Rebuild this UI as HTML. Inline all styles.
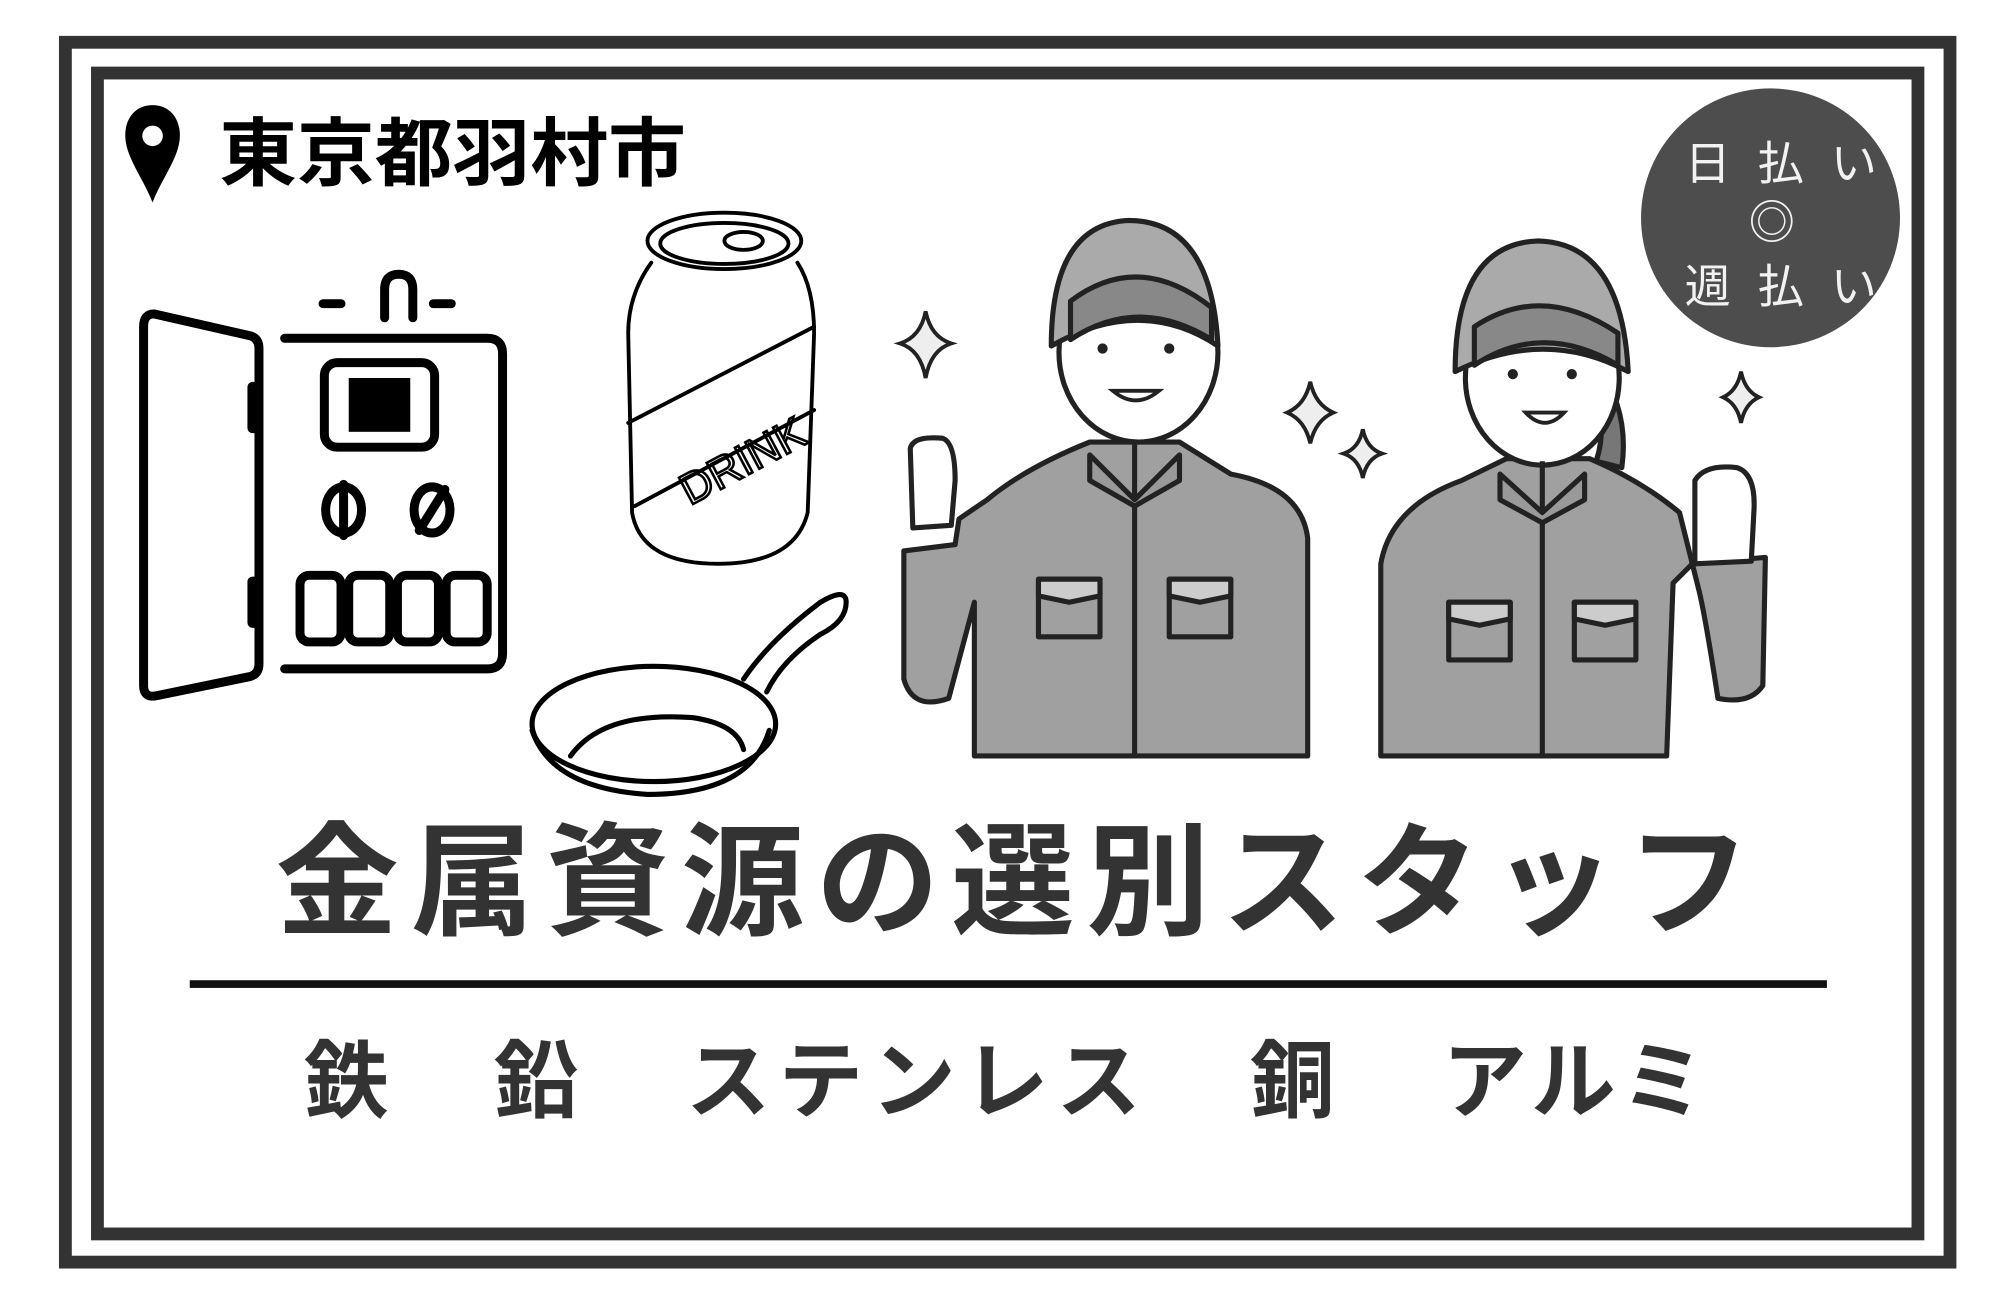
<!DOCTYPE html>
<html><head><meta charset="utf-8"><style>
html,body{margin:0;padding:0;background:#fff;}
svg{display:block;}
text{font-family:"Liberation Sans","Noto Sans CJK JP",sans-serif;}
</style></head><body>
<svg width="2000" height="1298" viewBox="0 0 1560 1013" preserveAspectRatio="none" xmlns="http://www.w3.org/2000/svg">
<rect x="0" y="0" width="1560" height="1013" fill="#fff"/>
<rect x="51" y="33" width="1470" height="952" fill="none" stroke="#333" stroke-width="10"/>
<rect x="76" y="57" width="1420" height="906" fill="none" stroke="#333" stroke-width="10"/>

<!-- pin -->
<path d="M119 82 C104 82 96 95 98 110 C100 125 112 140 119 158 C126 140 138 125 140 110 C142 95 134 82 119 82 Z" fill="#000"/>
<circle cx="119" cy="106" r="8" fill="#fff"/>
<text x="171" y="140" font-size="58" font-weight="bold" fill="#000" textLength="364" lengthAdjust="spacingAndGlyphs">東京都羽村市</text>

<!-- badge -->
<circle cx="1381" cy="170" r="101" fill="#4d4d4d"/>
<g fill="#f2f2f2" font-size="36">
<text x="1314" y="140" textLength="150" lengthAdjust="spacing">日払い</text>
<text x="1364" y="186">◎</text>
<text x="1314" y="236" textLength="150" lengthAdjust="spacing">週払い</text>
</g>

<!-- water heater -->
<g fill="none" stroke="#000" stroke-width="7" stroke-linecap="round" stroke-linejoin="round">
<path d="M120 245 Q112 245 112 255 L112 535 Q112 545 122 543 L195 528 Q202 526 202 518 L202 272 Q202 264 195 262 Z"/>
<path d="M222 264 L380 264 Q392 264 392 276 L392 510 Q392 522 380 522 L222 522"/>
<path d="M252 237 L266 237 M338 237 L352 237"/>
<path d="M300 248 L300 226 Q300 214 311 214 Q322 214 322 226 L322 248"/>
<rect x="253" y="283" width="86" height="66" rx="10"/>
<rect x="234" y="449" width="32" height="52" rx="7"/>
<rect x="272" y="449" width="32" height="52" rx="7"/>
<rect x="310" y="449" width="32" height="52" rx="7"/>
<rect x="348" y="449" width="32" height="52" rx="7"/>
<ellipse cx="268" cy="398" rx="14" ry="18"/>
<ellipse cx="337" cy="398" rx="14" ry="18"/>
<path d="M268 378 L268 418 M347 382 L327 414"/>
</g>
<rect x="272" y="295" width="48" height="42" fill="#000"/>
<rect x="193" y="298" width="10" height="40" rx="4" fill="#000"/>
<rect x="193" y="450" width="10" height="40" rx="4" fill="#000"/>

<!-- can -->
<g fill="none" stroke="#000" stroke-width="3" stroke-linecap="round">
<ellipse cx="565" cy="188" rx="60" ry="22"/>
<ellipse cx="565" cy="190" rx="50" ry="16"/>
<ellipse cx="580" cy="188" rx="15" ry="7"/>
<path d="M508 205 Q490 230 490 260 L493 400 Q500 440 560 440 Q620 440 630 400 L635 260 Q635 225 622 205"/>
<path d="M490 330 L635 255 M495 395 L635 320"/>
<text x="515" y="378" font-size="34" fill="none" stroke="#000" stroke-width="2" transform="rotate(-28 560 340)">DRINK</text>
</g>

<!-- pan -->
<g fill="none" stroke="#000" stroke-width="4" stroke-linecap="round">
<ellipse cx="510" cy="565" rx="95" ry="45"/>
<path d="M415 570 Q430 615 505 620 Q585 620 600 570"/>
<path d="M445 590 Q470 555 540 560 Q575 565 580 585"/>
<path d="M580 530 Q600 500 640 470 Q660 458 660 470 Q660 485 640 495 Q610 515 598 540"/>
</g>

<!-- sparkles -->
<g fill="#eee" stroke="#222" stroke-width="3">
<path d="M722 243 Q726 263 742 268 Q726 273 722 295 Q718 273 702 268 Q718 263 722 243Z"/>
<path d="M1022 298 Q1026 316 1040 322 Q1026 328 1022 346 Q1018 328 1004 322 Q1018 316 1022 298Z"/>
<path d="M1063 335 Q1066 350 1078 354 Q1066 358 1063 373 Q1060 358 1048 354 Q1060 350 1063 335Z"/>
<path d="M1358 290 Q1361 305 1372 310 Q1361 315 1358 330 Q1355 315 1344 310 Q1355 305 1358 290Z"/>
</g>

<!-- man -->
<g stroke="#222" stroke-width="4" stroke-linejoin="round">
<path d="M705 430 L705 530 Q712 555 740 545 L760 470 L760 590 L1020 590 L1020 420 Q1015 380 960 370 L920 345 L850 345 Q800 365 770 390 L748 405 L745 425 Z" fill="#a0a0a0"/>
<path d="M710 350 Q712 340 735 342 Q745 345 745 375 L742 410 L712 412 Z" fill="#fff"/>
<ellipse cx="888" cy="275" rx="62" ry="70" fill="#fff"/>
<path d="M820 270 Q820 175 880 172 Q945 172 950 270 Q890 230 820 270Z" fill="#aaa"/>
<path d="M835 235 Q888 195 945 240 L945 265 Q888 230 835 265Z" fill="#888"/>
<path d="M885 345 L885 590" fill="none"/>
<rect x="810" y="452" width="48" height="45" fill="#a0a0a0"/>
<rect x="912" y="452" width="48" height="45" fill="#a0a0a0"/>
<path d="M810 452 L858 452 L858 465 L834 470 L810 465Z M912 452 L960 452 L960 465 L936 470 L912 465Z" fill="#ccc"/>
<path d="M850 355 L885 390 L920 355 L920 375 L885 395 L850 375 Z" fill="#999"/>
</g>
<g fill="#222"><circle cx="860" cy="272" r="4"/><circle cx="912" cy="272" r="4"/>
<path d="M868 305 Q886 320 904 305 Z" stroke="#222" stroke-width="3" fill="#fff"/></g>

<!-- woman -->
<g stroke="#222" stroke-width="4" stroke-linejoin="round">
<path d="M1077 590 L1077 440 Q1085 395 1140 375 L1175 358 L1240 358 Q1280 375 1310 400 L1325 460 Q1330 480 1340 545 Q1365 550 1375 535 L1377 435 L1320 440 L1305 455 L1300 590 Z" fill="#a0a0a0"/>
<path d="M1322 440 L1322 375 Q1330 362 1355 365 Q1370 370 1368 400 L1366 438 Z" fill="#fff"/>
<path d="M1240 300 Q1255 330 1245 360 L1265 365 Q1270 330 1255 300Z" fill="#777"/>
<ellipse cx="1203" cy="295" rx="60" ry="68" fill="#fff"/>
<path d="M1135 290 Q1135 190 1200 188 Q1265 190 1270 290 Q1205 255 1135 290Z" fill="#aaa"/>
<path d="M1150 255 Q1203 220 1262 260 L1262 285 Q1203 250 1150 285Z" fill="#888"/>
<path d="M1203 360 L1203 590" fill="none"/>
<rect x="1130" y="470" width="48" height="45" fill="#a0a0a0"/>
<rect x="1228" y="470" width="48" height="45" fill="#a0a0a0"/>
<path d="M1130 470 L1178 470 L1178 483 L1154 488 L1130 483Z M1228 470 L1276 470 L1276 483 L1252 488 L1228 483Z" fill="#ccc"/>
<path d="M1170 370 L1203 400 L1236 370 L1236 390 L1203 408 L1170 390 Z" fill="#999"/>
</g>
<g fill="#222"><circle cx="1180" cy="292" r="4"/><circle cx="1226" cy="292" r="4"/>
<path d="M1190 322 Q1205 338 1220 322 Z" stroke="#222" stroke-width="3" fill="#fff"/></g>

<!-- title -->
<text x="215" y="722" font-size="96" font-weight="bold" fill="#333" textLength="1150" lengthAdjust="spacing">金属資源の選別スタッフ</text>
<rect x="148" y="765" width="1277" height="6" fill="#111"/>
<g font-size="66" font-weight="bold" fill="#333">
<text x="237" y="867">鉄</text>
<text x="385" y="867">鉛</text>
<text x="535" y="867" textLength="355" lengthAdjust="spacing">ステンレス</text>
<text x="975" y="867">銅</text>
<text x="1125" y="867" textLength="205" lengthAdjust="spacing">アルミ</text>
</g>
</svg>
</body></html>
